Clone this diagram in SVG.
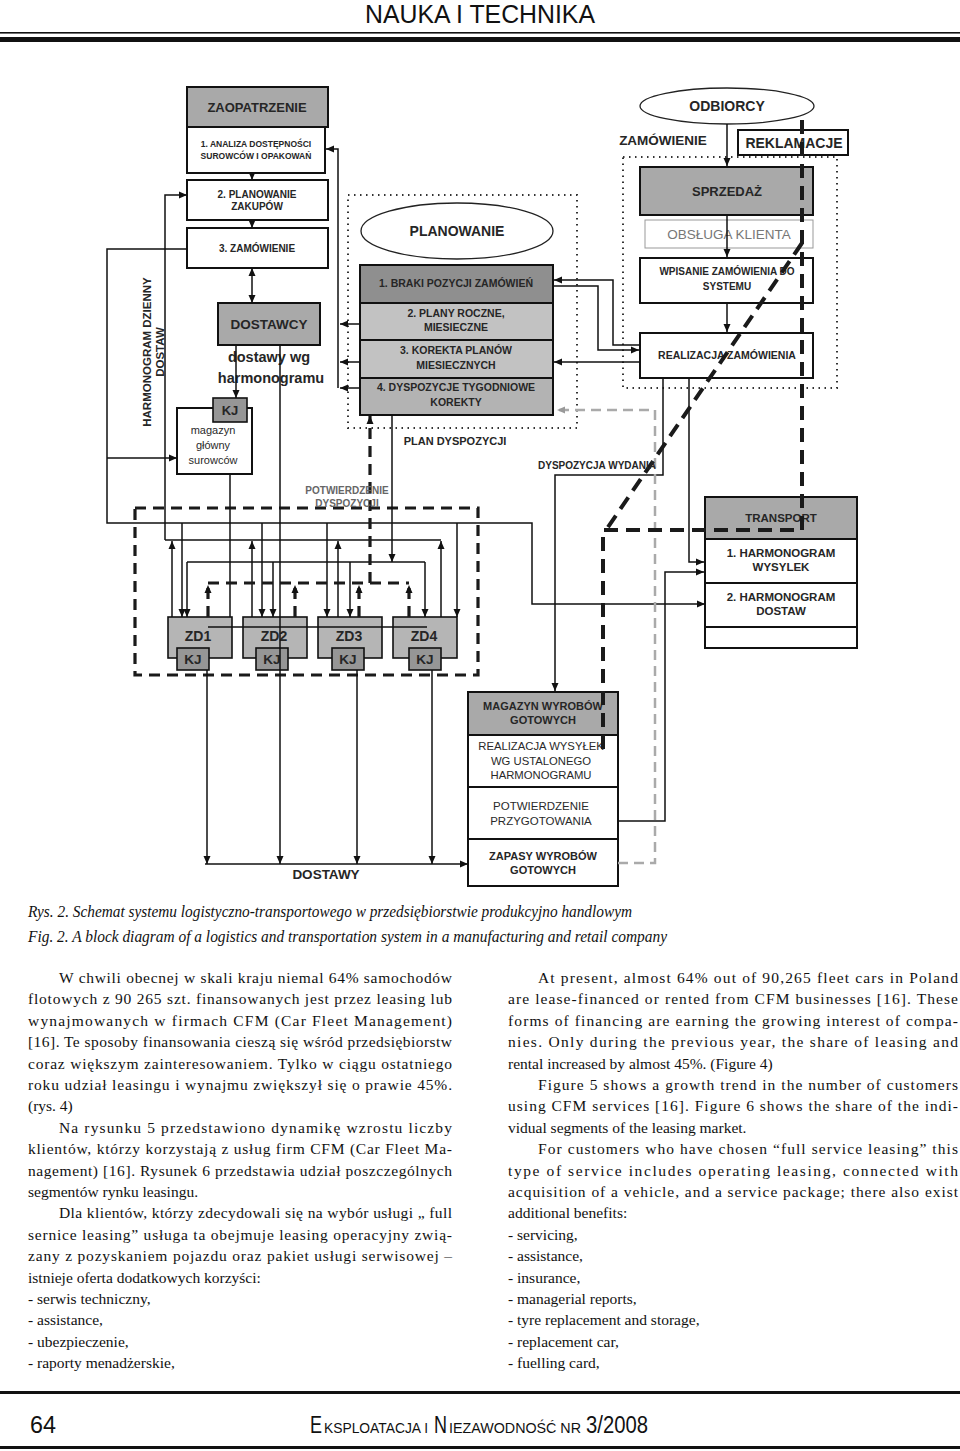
<svg xmlns="http://www.w3.org/2000/svg" width="960" height="1451" viewBox="0 0 960 1451">
<defs>
<style>
.b{fill:#fff;stroke:#111;stroke-width:2}
.g{fill:#a9a9a9;stroke:#111;stroke-width:2}
.zd{fill:#b5b5b5;stroke:#111;stroke-width:1.6}
.kj{fill:#969696;stroke:#111;stroke-width:1.6}
.t{font-family:'Liberation Sans',Arial,sans-serif;font-weight:bold;fill:#262626;text-anchor:middle}
.tn{font-family:'Liberation Sans',Arial,sans-serif;fill:#2a2a2a;text-anchor:middle}
.ln{fill:none;stroke:#111;stroke-width:1.5}
.dsh{fill:none;stroke:#1a1a1a;stroke-width:4;stroke-dasharray:14 8}
.dsh2{fill:none;stroke:#1a1a1a;stroke-width:3.2;stroke-dasharray:11 7}
.dot{fill:none;stroke:#333;stroke-width:2;stroke-dasharray:1.5 4.5}
.gd{fill:none;stroke:#aaa;stroke-width:2.5;stroke-dasharray:10 6}
.body{font-family:'Liberation Serif','Times New Roman',serif;font-size:15.5px;fill:#111}
.cap{font-family:'Liberation Serif','Times New Roman',serif;font-size:16px;font-style:italic;fill:#111}
.ft{font-family:'Liberation Sans',Arial,sans-serif;fill:#111}
</style>
<marker id="a" markerUnits="userSpaceOnUse" markerWidth="8" markerHeight="8" viewBox="0 0 8 8" refX="8" refY="4" orient="auto-start-reverse"><path d="M0,0.5 L8,4 L0,7.5z" fill="#111"/></marker>
<marker id="ag" markerUnits="userSpaceOnUse" markerWidth="8" markerHeight="8" viewBox="0 0 8 8" refX="8" refY="4" orient="auto"><path d="M0,0.5 L8,4 L0,7.5z" fill="#999"/></marker>
</defs>
<rect width="960" height="1451" fill="#fff"/>

<g id="header">
<text x="480" y="23" font-family="'Liberation Sans',Arial,sans-serif" font-size="25" text-anchor="middle" textLength="230" lengthAdjust="spacingAndGlyphs" fill="#111">NAUKA I TECHNIKA</text>
<rect x="0" y="32" width="960" height="1.6" fill="#111"/>
<rect x="0" y="37" width="960" height="5" fill="#111"/>
</g>

<g id="group-zd" ><rect x="135" y="508" width="343" height="167" class="dsh2"/></g>
<g id="group-planowanie"><rect x="348" y="195" width="229" height="233" class="dot"/></g>
<g id="group-sprzedaz"><rect x="623" y="157" width="214" height="231" class="dot"/></g>

<g id="zaopatrzenie"><rect x="187" y="87" width="141" height="40" class="g"/><text x="257" y="112" class="t" font-size="13">ZAOPATRZENIE</text></g>
<g id="analiza"><rect x="187" y="127" width="138" height="46" class="b"/><text x="256" y="147" class="t" font-size="8.5">1. ANALIZA DOSTĘPNOŚCI</text><text x="256" y="159" class="t" font-size="8.5">SUROWCÓW I OPAKOWAŃ</text></g>
<g id="planowanie-zakupow"><rect x="187" y="180" width="141" height="40" class="b"/><text x="257" y="198" class="t" font-size="10">2. PLANOWANIE</text><text x="257" y="210" class="t" font-size="10">ZAKUPÓW</text></g>
<g id="zamowienie"><rect x="187" y="228" width="141" height="40" class="b"/><text x="257" y="252" class="t" font-size="10">3. ZAMÓWIENIE</text></g>
<g id="dostawcy"><rect x="218" y="303" width="102" height="42" class="g"/><text x="269" y="329" class="t" font-size="13.5">DOSTAWCY</text></g>
<g id="dostawy-wg"><text x="269" y="362" class="t" font-size="14.5">dostawy wg</text><text x="271" y="383" class="t" font-size="14.5">harmonogramu</text></g>
<g id="magazyn"><rect x="177" y="408" width="75" height="66" class="b"/><text x="213" y="434" class="tn" font-size="11">magazyn</text><text x="213" y="449" class="tn" font-size="11">główny</text><text x="213" y="464" class="tn" font-size="11">surowców</text></g>
<g id="kj-magazyn"><rect x="213" y="398" width="34" height="24" class="kj"/><text x="230" y="415" class="t" font-size="13">KJ</text></g>
<g id="harmonogram-dzienny"><text transform="translate(151,352) rotate(-90)" class="t" font-size="11.5">HARMONOGRAM DZIENNY</text><text transform="translate(164,352) rotate(-90)" class="t" font-size="11.5">DOSTAW</text></g>

<g id="planowanie"><ellipse cx="457" cy="231" rx="96" ry="28" fill="#fff" stroke="#222" stroke-width="1.3"/><text x="457" y="236" class="t" font-size="14">PLANOWANIE</text></g>
<g id="braki"><rect x="360" y="265" width="193" height="38" fill="#8f8f8f" stroke="#111" stroke-width="2"/><text x="456" y="287" class="t" font-size="10.5">1. BRAKI POZYCJI ZAMÓWIEŃ</text></g>
<g id="plany"><rect x="360" y="303" width="193" height="37" fill="#c2c2c2" stroke="#111" stroke-width="2"/><text x="456" y="317" class="t" font-size="10.5">2. PLANY ROCZNE,</text><text x="456" y="331" class="t" font-size="10.5">MIESIECZNE</text></g>
<g id="korekta"><rect x="360" y="340" width="193" height="38" fill="#c2c2c2" stroke="#111" stroke-width="2"/><text x="456" y="354" class="t" font-size="10.5">3. KOREKTA PLANÓW</text><text x="456" y="369" class="t" font-size="10.5">MIESIECZNYCH</text></g>
<g id="dyspozycje"><rect x="360" y="378" width="193" height="37" fill="#b3b3b3" stroke="#111" stroke-width="2"/><text x="456" y="391" class="t" font-size="10.5">4. DYSPOZYCJE TYGODNIOWE</text><text x="456" y="406" class="t" font-size="10.5">KOREKTY</text></g>

<g id="odbiorcy"><ellipse cx="727" cy="106" rx="87" ry="18" fill="#fff" stroke="#222" stroke-width="1.3"/><text x="727" y="111" class="t" font-size="14">ODBIORCY</text></g>
<g id="zamowienie-label"><text x="663" y="145" class="t" font-size="13.5">ZAMÓWIENIE</text></g>
<g id="reklamacje"><rect x="738" y="130" width="110" height="25" class="b"/><text x="794" y="148" class="t" font-size="14">REKLAMACJE</text></g>
<g id="sprzedaz"><rect x="640" y="167" width="173" height="48" class="g"/><text x="727" y="196" class="t" font-size="13">SPRZEDAŻ</text></g>
<g id="obsluga"><rect x="645" y="220" width="168" height="28" fill="none" stroke="#999" stroke-width="1"/><text x="729" y="239" class="tn" font-size="13.5" style="fill:#777">OBSŁUGA KLIENTA</text></g>
<g id="wpisanie"><rect x="640" y="258" width="173" height="45" class="b"/><text x="727" y="275" class="t" font-size="10">WPISANIE ZAMÓWIENIA DO</text><text x="727" y="290" class="t" font-size="10">SYSTEMU</text></g>
<g id="realizacja"><rect x="640" y="333" width="173" height="45" class="b"/><text x="727" y="359" class="t" font-size="10.5">REALIZACJA ZAMÓWIENIA</text></g>

<g id="transport"><rect x="705" y="497" width="152" height="42" class="g"/><text x="781" y="522" class="t" font-size="11.5">TRANSPORT</text></g>
<g id="harm-wysylek"><rect x="705" y="539" width="152" height="44" class="b"/><text x="781" y="557" class="t" font-size="11.5">1. HARMONOGRAM</text><text x="781" y="571" class="t" font-size="11.5">WYSYLEK</text></g>
<g id="harm-dostaw"><rect x="705" y="583" width="152" height="44" class="b"/><text x="781" y="601" class="t" font-size="11.5">2. HARMONOGRAM</text><text x="781" y="615" class="t" font-size="11.5">DOSTAW</text></g>
<g id="transport-empty"><rect x="705" y="627" width="152" height="21" class="b"/></g>

<g id="zd1"><rect x="168" y="617" width="64" height="41" class="zd"/><text x="198" y="641" class="t" font-size="14">ZD1</text></g>
<g id="zd2"><rect x="243" y="617" width="64" height="41" class="zd"/><text x="274" y="641" class="t" font-size="14">ZD2</text></g>
<g id="zd3"><rect x="318" y="617" width="64" height="41" class="zd"/><text x="349" y="641" class="t" font-size="14">ZD3</text></g>
<g id="zd4"><rect x="393" y="617" width="64" height="41" class="zd"/><text x="424" y="641" class="t" font-size="14">ZD4</text></g>
<g id="kj1"><rect x="177" y="648" width="32" height="22" class="kj"/><text x="193" y="664" class="t" font-size="13.5">KJ</text></g>
<g id="kj2"><rect x="256" y="648" width="32" height="22" class="kj"/><text x="272" y="664" class="t" font-size="13.5">KJ</text></g>
<g id="kj3"><rect x="332" y="648" width="32" height="22" class="kj"/><text x="348" y="664" class="t" font-size="13.5">KJ</text></g>
<g id="kj4"><rect x="409" y="648" width="32" height="22" class="kj"/><text x="425" y="664" class="t" font-size="13.5">KJ</text></g>

<g id="magazyn-wyrobow"><rect x="468" y="692" width="150" height="43" class="g"/><text x="543" y="710" class="t" font-size="11">MAGAZYN WYROBÓW</text><text x="543" y="724" class="t" font-size="11">GOTOWYCH</text></g>
<g id="realizacja-wysylki"><rect x="468" y="735" width="150" height="52" class="b"/><text x="541" y="750" class="tn" font-size="11.3">REALIZACJA WYSYŁEK</text><text x="541" y="765" class="tn" font-size="11.3">WG USTALONEGO</text><text x="541" y="779" class="tn" font-size="11.3">HARMONOGRAMU</text></g>
<g id="potwierdzenie"><rect x="468" y="787" width="150" height="52" class="b"/><text x="541" y="810" class="tn" font-size="11.5">POTWIERDZENIE</text><text x="541" y="825" class="tn" font-size="11.5">PRZYGOTOWANIA</text></g>
<g id="zapasy"><rect x="468" y="839" width="150" height="47" class="b"/><text x="543" y="860" class="t" font-size="11">ZAPASY WYROBÓW</text><text x="543" y="874" class="t" font-size="11">GOTOWYCH</text></g>

<g id="connectors">
<path class="ln" d="M252,173 V180" marker-end="url(#a)"/>
<path class="ln" d="M252,220 V228" marker-end="url(#a)"/>
<path class="ln" d="M252,268 V303" marker-start="url(#a)" marker-end="url(#a)"/>
<path class="ln" d="M236,345 V398" marker-end="url(#a)"/>
<path class="ln" d="M280,345 V864" marker-end="url(#a)"/>
<path class="ln" d="M187,249 H107 V523 H532 V604 H705" marker-end="url(#a)"/>
<path class="ln" d="M107,458 H177" marker-end="url(#a)"/>
<path class="ln" d="M182,523 V617" marker-end="url(#a)"/>
<path class="ln" d="M262,523 V617" marker-end="url(#a)"/>
<path class="ln" d="M327,523 V617" marker-end="url(#a)"/>
<path class="ln" d="M457,523 V617" marker-end="url(#a)"/>
<path class="ln" d="M165,540 V195 H187" marker-end="url(#a)"/>
<path class="ln" d="M165,540 H441"/>
<path class="ln" d="M172,617 V541" marker-end="url(#a)"/>
<path class="ln" d="M252,617 V541" marker-end="url(#a)"/>
<path class="ln" d="M338,617 V541" marker-end="url(#a)"/>
<path class="ln" d="M441,617 V541" marker-end="url(#a)"/>
<path class="ln" d="M230,474 V617"/>
<path class="ln" d="M392,415 V562" marker-end="url(#a)"/>
<path class="ln" d="M187,562 H425"/>
<path class="ln" d="M187,562 V617" marker-end="url(#a)"/>
<path class="ln" d="M273,562 V617" marker-end="url(#a)"/>
<path class="ln" d="M350,562 V617" marker-end="url(#a)"/>
<path class="ln" d="M425,562 V617" marker-end="url(#a)"/>
<path class="dsh2" d="M208,583 H409"/>
<path class="dsh2" d="M208,617 V585" marker-end="url(#a)"/>
<path class="dsh2" d="M295,617 V585" marker-end="url(#a)"/>
<path class="dsh2" d="M359,617 V585" marker-end="url(#a)"/>
<path class="dsh2" d="M409,617 V585" marker-end="url(#a)"/>
<path class="dsh2" d="M370,583 V416" marker-end="url(#a)"/>
<path class="ln" d="M208,627 H427" stroke-width="1.2"/>
<path class="ln" d="M207,670 V864" marker-end="url(#a)"/>
<path class="ln" d="M357,670 V864" marker-end="url(#a)"/>
<path class="ln" d="M432,670 V864" marker-end="url(#a)"/>
<path class="ln" d="M205,864 H468" stroke-width="2" marker-end="url(#a)"/>
<path class="ln" d="M338,388 V149 H326" marker-end="url(#a)"/>
<path class="ln" d="M360,324 H340" marker-end="url(#a)"/>
<path class="ln" d="M360,362 H340" marker-end="url(#a)"/>
<path class="ln" d="M360,388 H340" marker-end="url(#a)"/>
<path class="ln" d="M640,345 H613 V280 H554" marker-end="url(#a)"/>
<path class="ln" d="M553,286 H598 V350 H639" marker-end="url(#a)"/>
<path class="ln" d="M640,362 H554" marker-end="url(#a)"/>
<path class="ln" d="M727,124 V166" marker-end="url(#a)"/>
<path class="ln" d="M727,215 V257" marker-end="url(#a)"/>
<path class="ln" d="M727,303 V332" marker-end="url(#a)"/>
<path class="ln" d="M663,378 V475 H555 V691" marker-end="url(#a)"/>
<path class="ln" d="M689,378 V562 H704" marker-end="url(#a)"/>
<path class="ln" d="M618,821 H665 V572 H704" marker-end="url(#a)"/>
<path class="gd" d="M618,863 H655 V410 H557" marker-end="url(#ag)"/>
<path class="dsh" d="M802,120 V530 H603 V757"/>
<path class="dsh" d="M802,243 L606,530"/>
</g>

<g id="labels">
<text x="455" y="445" class="t" font-size="11">PLAN DYSPOZYCJI</text>
<text x="597" y="469" class="t" font-size="10">DYSPOZYCJA WYDANIA</text>
<text x="347" y="494" class="t" font-size="10" style="fill:#666">POTWIERDZENIE</text>
<text x="347" y="507" class="t" font-size="10" style="fill:#666">DYSPOZYCJI</text>
<text x="326" y="879" class="t" font-size="13.5">DOSTAWY</text>
</g>

<g id="captions">
<text x="28" y="917" class="cap" textLength="604" lengthAdjust="spacingAndGlyphs">Rys. 2. Schemat systemu logistyczno-transportowego w przedsiębiorstwie produkcyjno handlowym</text>
<text x="28" y="942" class="cap" textLength="639" lengthAdjust="spacingAndGlyphs">Fig. 2. A block diagram of a logistics and transportation system in a manufacturing and retail company</text>
</g>

<g id="col-left" class="body">
<text x="59" y="983" textLength="393" lengthAdjust="spacing">W chwili obecnej w skali kraju niemal 64% samochodów</text>
<text x="28" y="1004.4" textLength="424" lengthAdjust="spacing">flotowych z 90 265 szt. finansowanych jest przez leasing lub</text>
<text x="28" y="1025.8" textLength="424" lengthAdjust="spacing">wynajmowanych w firmach CFM (Car Fleet Management)</text>
<text x="28" y="1047.2" textLength="424" lengthAdjust="spacing">[16]. Te sposoby finansowania cieszą się wśród przedsiębiorstw</text>
<text x="28" y="1068.6" textLength="424" lengthAdjust="spacing">coraz większym zainteresowaniem. Tylko w ciągu ostatniego</text>
<text x="28" y="1089.9" textLength="424" lengthAdjust="spacing">roku udział leasingu i wynajmu zwiększył się o prawie 45%.</text>
<text x="28" y="1111.3">(rys. 4)</text>
<text x="59" y="1132.7" textLength="393" lengthAdjust="spacing">Na rysunku 5 przedstawiono dynamikę wzrostu liczby</text>
<text x="28" y="1154.1" textLength="424" lengthAdjust="spacing">klientów, którzy korzystają z usług firm CFM (Car Fleet Ma-</text>
<text x="28" y="1175.5" textLength="424" lengthAdjust="spacing">nagement) [16]. Rysunek 6 przedstawia udział poszczególnych</text>
<text x="28" y="1196.9">segmentów rynku leasingu.</text>
<text x="59" y="1218.3" textLength="393" lengthAdjust="spacing">Dla klientów, którzy zdecydowali się na wybór usługi „ full</text>
<text x="28" y="1239.7" textLength="424" lengthAdjust="spacing">sernice leasing”  usługa ta obejmuje leasing operacyjny zwią-</text>
<text x="28" y="1261.1" textLength="424" lengthAdjust="spacing">zany z pozyskaniem pojazdu oraz pakiet usługi serwisowej –</text>
<text x="28" y="1282.5">istnieje oferta dodatkowych korzyści:</text>
<text x="28" y="1303.9">- serwis techniczny,</text>
<text x="28" y="1325.2">- assistance,</text>
<text x="28" y="1346.6">- ubezpieczenie,</text>
<text x="28" y="1368">- raporty menadżerskie,</text>
</g>

<g id="col-right" class="body">
<text x="538" y="983" textLength="420" lengthAdjust="spacing">At present, almost 64% out of 90,265 fleet cars in Poland</text>
<text x="508" y="1004.4" textLength="450" lengthAdjust="spacing">are lease-financed or rented from CFM businesses [16]. These</text>
<text x="508" y="1025.8" textLength="450" lengthAdjust="spacing">forms of financing are earning the growing interest of compa-</text>
<text x="508" y="1047.2" textLength="450" lengthAdjust="spacing">nies. Only during the previous year, the share of leasing and</text>
<text x="508" y="1068.6">rental increased by almost 45%. (Figure 4)</text>
<text x="538" y="1089.9" textLength="420" lengthAdjust="spacing">Figure 5 shows a growth trend in the number of customers</text>
<text x="508" y="1111.3" textLength="450" lengthAdjust="spacing">using CFM services [16]. Figure 6 shows the share of the indi-</text>
<text x="508" y="1132.7">vidual segments of the leasing market.</text>
<text x="538" y="1154.1" textLength="420" lengthAdjust="spacing">For customers who have chosen “full service leasing” this</text>
<text x="508" y="1175.5" textLength="450" lengthAdjust="spacing">type of service includes operating leasing, connected with</text>
<text x="508" y="1196.9" textLength="450" lengthAdjust="spacing">acquisition of a vehicle, and a service package; there also exist</text>
<text x="508" y="1218.3">additional benefits:</text>
<text x="508" y="1239.7">- servicing,</text>
<text x="508" y="1261.1">- assistance,</text>
<text x="508" y="1282.5">- insurance,</text>
<text x="508" y="1303.9">- managerial reports,</text>
<text x="508" y="1325.2">- tyre replacement and storage,</text>
<text x="508" y="1346.6">- replacement car,</text>
<text x="508" y="1368">- fuelling card,</text>
</g>

<g id="footer">
<rect x="0" y="1391" width="960" height="3" fill="#111"/>
<text x="30" y="1433" class="ft" font-size="23" textLength="26" lengthAdjust="spacingAndGlyphs">64</text>
<text x="310" y="1433" class="ft" font-size="23" textLength="12" lengthAdjust="spacingAndGlyphs">E</text>
<text x="324" y="1433" class="ft" font-size="14" textLength="104" lengthAdjust="spacingAndGlyphs">KSPLOATACJA I</text>
<text x="434" y="1433" class="ft" font-size="23" textLength="13" lengthAdjust="spacingAndGlyphs">N</text>
<text x="449" y="1433" class="ft" font-size="14" textLength="132" lengthAdjust="spacingAndGlyphs">IEZAWODNOŚĆ NR</text>
<text x="586" y="1433" class="ft" font-size="23" textLength="62" lengthAdjust="spacingAndGlyphs">3/2008</text>
<rect x="0" y="1446" width="960" height="3" fill="#111"/>
</g>
</svg>
